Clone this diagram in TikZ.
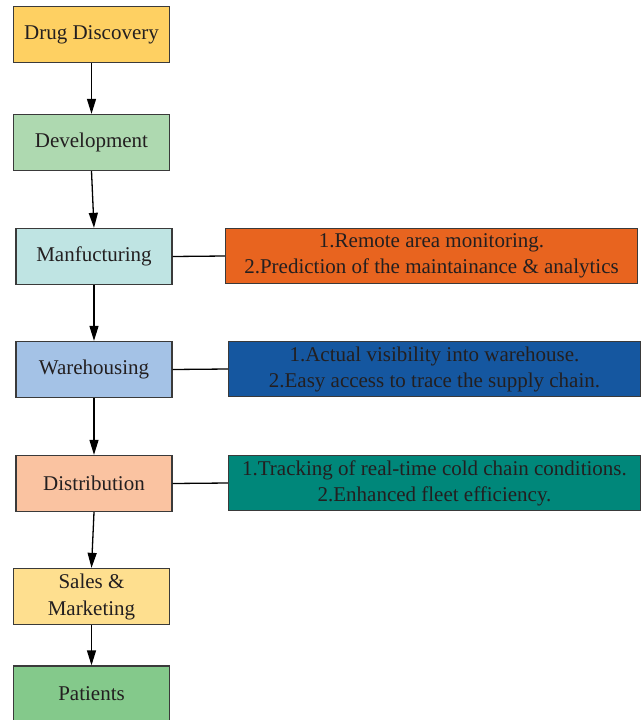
\documentclass[tikz,border=0pt]{standalone}
\usepackage{fontspec}
\setmainfont{Liberation Serif}
\usetikzlibrary{arrows.meta}
\definecolor{txt}{HTML}{231F20}
\definecolor{edge}{HTML}{3A3A3A}
\definecolor{cDrug}{HTML}{FED062}
\definecolor{cDev}{HTML}{AED9B0}
\definecolor{cMan}{HTML}{BFE4E3}
\definecolor{cWare}{HTML}{A4C2E6}
\definecolor{cDist}{HTML}{FAC3A1}
\definecolor{cSales}{HTML}{FEDF8F}
\definecolor{cPat}{HTML}{84C98B}
\definecolor{cOrange}{HTML}{E8641F}
\definecolor{cBlue}{HTML}{1557A0}
\definecolor{cTeal}{HTML}{00877A}
\tikzset{
  stagebox/.style={draw=edge, line width=1.3pt, minimum width=156pt, minimum height=56pt,
    inner sep=0pt, align=center, text=txt, font=\fontsize{21}{27}\selectfont},
  infobox/.style={draw=edge, line width=1.3pt, minimum width=412pt, minimum height=55pt,
    inner sep=0pt, align=center, text=txt, font=\fontsize{21}{26}\selectfont},
  flow/.style={line width=1.3pt, draw=black, -{Triangle[length=15pt,width=9pt]}},
  link/.style={line width=1.3pt, draw=black}
}
\begin{document}
\begin{tikzpicture}[x=1pt,y=-1pt]
\useasboundingbox (0,0) rectangle (643,720);
\node[stagebox, fill=cDrug]  (drug)  at (91.5,34.5)  {Drug Discovery};
\node[stagebox, fill=cDev]   (dev)   at (91.5,142.5) {Development};
\node[stagebox, fill=cMan]   (man)   at (94,256.5)   {Manfucturing};
\node[stagebox, fill=cWare]  (ware)  at (94,369.5)   {Warehousing};
\node[stagebox, fill=cDist]  (dist)  at (94,483.5)   {Distribution};
\node[stagebox, fill=cSales] (sales) at (91.5,596.5) {Sales \&\\Marketing};
\node[stagebox, fill=cPat]   (pat)   at (91.5,694)   {Patients};

\node[infobox, fill=cOrange] (iman)  at (431.5,256) {1.Remote area monitoring.\\2.Prediction of the maintainance \& analytics};
\node[infobox, fill=cBlue]   (iware) at (434.5,369) {1.Actual visibility into warehouse.\\2.Easy access to trace the supply chain.};
\node[infobox, fill=cTeal]   (idist) at (434.5,483) {1.Tracking of real-time cold chain conditions.\\2.Enhanced fleet efficiency.};

\draw[flow] (drug.south) -- (dev.north);
\draw[flow] (dev.south) -- (man.north);
\draw[flow] (man.south) -- (ware.north);
\draw[flow] (ware.south) -- (dist.north);
\draw[flow] (dist.south) -- (sales.north);
\draw[flow] (sales.south) -- (pat.north);

\draw[link] (man.east) -- (iman.west);
\draw[link] (ware.east) -- (iware.west);
\draw[link] (dist.east) -- (idist.west);
\end{tikzpicture}
\end{document}
